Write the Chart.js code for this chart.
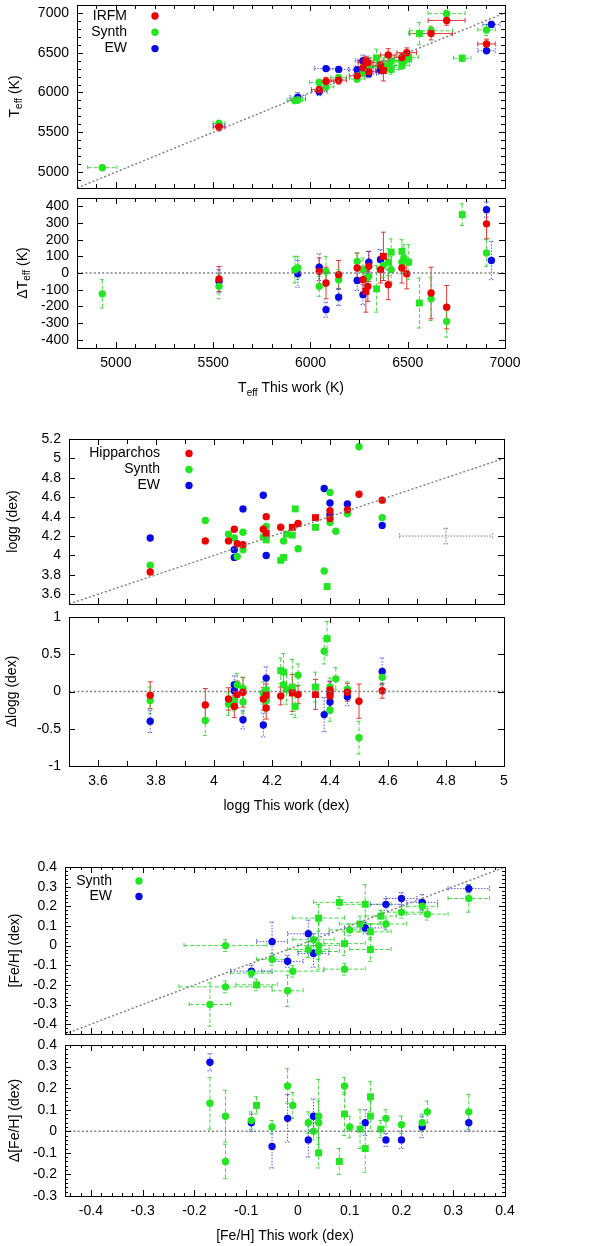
<!DOCTYPE html>
<html><head><meta charset="utf-8"><title>Teff, logg and [Fe/H] comparison</title>
<script src="https://cdn.jsdelivr.net/npm/chart.js@4.4.1/dist/chart.umd.min.js"></script>
<style>
html,body{margin:0;padding:0;background:#fff;}
#wrap{position:relative;width:600px;height:1246px;overflow:hidden;background:#fff;}
#wrap canvas{position:absolute;left:0;top:0;width:600px;height:1246px;}
</style></head>
<body><div id="wrap">
<canvas id="p1" width="600" height="1246"></canvas>
<canvas id="p2" width="600" height="1246"></canvas>
<canvas id="p3" width="600" height="1246"></canvas>
<canvas id="p4" width="600" height="1246"></canvas>
<canvas id="p5" width="600" height="1246"></canvas>
<canvas id="p6" width="600" height="1246"></canvas>
</div>
<script>
// ===================== DATA =====================
// axis ranges and tick labels
const teffRangeX = [4800, 7000];
const teffRangeY = [4800, 7100];
const dTeffRange = [-450, 450];
const teffTicks  = [5000, 5500, 6000, 6500, 7000];
const dTeffTicks = [-400, -300, -200, -100, 0, 100, 200, 300, 400];

const loggRangeX = [3.5, 5];
const loggRangeY = [3.5, 5.2];
const dLoggRange = [-1, 1];
const loggTicksX = [3.6, 3.8, 4, 4.2, 4.4, 4.6, 4.8, 5];
const loggTicksY = [3.6, 3.8, 4, 4.2, 4.4, 4.6, 4.8, 5, 5.2];
const dLoggTicks = [-1, -0.5, 0, 0.5, 1];

const fehRange   = [-0.45, 0.4];
const dFehRange  = [-0.3, 0.4];
const fehTicks   = [-0.4, -0.3, -0.2, -0.1, 0, 0.1, 0.2, 0.3, 0.4];
const dFehTicks  = [-0.3, -0.2, -0.1, 0, 0.1, 0.2, 0.3, 0.4];

// ---------- Teff : IRFM ----------
const irfmTeffThis     = [5530, 6045, 6080, 6145, 6240, 6270, 6295, 6300, 6360, 6400, 6470, 6495, 6620, 6700, 6905];
const irfmTeffLit      = [5566, 6035, 6140, 6155, 6210, 6310, 6375, 6260, 6340, 6470, 6440, 6500, 6740, 6905, 6610];
const irfmTeffDelta    = [-36, 10, -60, -10, 30, -40, -80, 40, 20, -70, 30, -5, -120, -205, 295];
const irfmTeffThisErr  = [30, 40, 40, 40, 40, 40, 50, 40, 40, 40, 40, 50, 110, 95, 45];
const irfmTeffLitErr   = [50, 40, 50, 50, 50, 50, 60, 60, 50, 80, 50, 60, 80, 60, 60];
const irfmTeffDeltaErr = [75, 80, 95, 85, 90, 80, 90, 90, 80, 90, 90, 90, 155, 130, 90];
// IRFM, square symbols
const irfmSqTeffThis     = [6285, 6375];
const irfmSqTeffLit      = [6395, 6275];
const irfmSqTeffDelta    = [-110, 100];
const irfmSqTeffThisErr  = [40, 40];
const irfmSqTeffLitErr   = [60, 130];
const irfmSqTeffDeltaErr = [125, 145];

// ---------- Teff : Synth ----------
const synthTeffThis     = [4930, 5530, 5920, 5935, 6045, 6080, 6145, 6240, 6270, 6285, 6300, 6375, 6400, 6415, 6470, 6480, 6620, 6700, 6905];
const synthTeffLit      = [5055, 5610, 5900, 5905, 6125, 6070, 6185, 6170, 6250, 6315, 6320, 6330, 6335, 6395, 6405, 6390, 6775, 6990, 6785];
const synthTeffDelta    = [-125, -80, 20, 30, -80, 10, -40, 70, 20, -30, -20, 45, 65, 20, 65, 90, -155, -290, 120];
const synthTeffThisErr  = [75, 30, 40, 40, 50, 40, 40, 40, 40, 40, 40, 40, 40, 40, 40, 40, 110, 95, 45];
const synthTeffLitErr   = [30, 40, 40, 40, 40, 50, 40, 40, 50, 50, 50, 60, 60, 60, 50, 50, 60, 40, 70];
const synthTeffDeltaErr = [85, 75, 80, 70, 60, 90, 60, 50, 70, 60, 60, 70, 80, 80, 70, 80, 130, 95, 80];
// Synth, square symbols
const synthSqTeffThis     = [6340, 6415, 6470, 6505, 6560, 6780];
const synthSqTeffLit      = [6435, 6290, 6340, 6440, 6740, 6430];
const synthSqTeffDelta    = [-95, 125, 130, 65, -180, 350];
const synthSqTeffThisErr  = [40, 40, 40, 50, 55, 45];
const synthSqTeffLitErr   = [110, 60, 50, 60, 140, 40];
const synthSqTeffDeltaErr = [140, 80, 70, 105, 150, 65];

// ---------- Teff : EW ----------
const ewTeffThis     = [5530, 5935, 6045, 6080, 6145, 6240, 6270, 6300, 6360, 6905, 6930];
const ewTeffLit      = [5580, 5940, 6010, 6300, 6290, 6285, 6400, 6235, 6280, 6525, 6855];
const ewTeffDelta    = [-50, -5, 35, -220, -145, -45, -130, 65, 80, 380, 75];
const ewTeffThisErr  = [30, 40, 40, 60, 50, 40, 40, 40, 40, 45, 45];
const ewTeffLitErr   = [40, 60, 50, 30, 30, 30, 70, 50, 50, 30, 40];
const ewTeffDeltaErr = [70, 80, 80, 45, 50, 60, 60, 65, 60, 45, 115];

// ---------- logg : Hipparchos ----------
const hipLoggThis     = [3.78, 3.97, 4.05, 4.07, 4.08, 4.10, 4.17, 4.18, 4.23, 4.29, 4.40, 4.40, 4.46, 4.50, 4.58];
const hipLoggLit      = [3.83, 4.15, 4.15, 4.27, 4.12, 4.11, 4.27, 4.40, 4.29, 4.33, 4.46, 4.38, 4.47, 4.63, 4.57];
const hipLoggDelta    = [-0.05, -0.18, -0.10, -0.20, -0.04, -0.01, -0.10, -0.22, -0.06, -0.04, -0.06, 0.02, -0.01, -0.13, 0.01];
const hipLoggDeltaErr = [0.18, 0.22, 0.15, 0.15, 0.18, 0.20, 0.15, 0.15, 0.12, 0.12, 0.15, 0.12, 0.12, 0.23, 0.10];
const hipSqLoggThis     = [4.18, 4.27, 4.35];
const hipSqLoggLit      = [4.23, 4.29, 4.39];
const hipSqLoggDelta    = [-0.05, -0.02, -0.04];
const hipSqLoggDeltaErr = [0.15, 0.25, 0.20];

// ---------- logg : Synth ----------
const synthLoggThis     = [3.78, 3.97, 4.05, 4.07, 4.08, 4.10, 4.10, 4.17, 4.18, 4.24, 4.29, 4.38, 4.40, 4.40, 4.42, 4.46, 4.50, 4.58];
const synthLoggLit      = [3.90, 4.36, 4.22, 4.18, 3.99, 4.24, 4.06, 4.19, 4.30, 4.15, 4.07, 3.84, 4.65, 4.34, 4.25, 4.43, 5.12, 4.39];
const synthLoggDelta    = [-0.12, -0.39, -0.17, -0.11, 0.09, -0.14, 0.04, -0.02, -0.12, 0.09, 0.22, 0.54, -0.25, 0.06, 0.17, 0.03, -0.62, 0.19];
const synthLoggDeltaErr = [0.18, 0.20, 0.15, 0.15, 0.15, 0.15, 0.15, 0.15, 0.15, 0.15, 0.15, 0.17, 0.15, 0.12, 0.15, 0.10, 0.22, 0.10];
const synthSqLoggThis     = [4.18, 4.23, 4.24, 4.25, 4.27, 4.28, 4.35, 4.39];
const synthSqLoggLit      = [4.16, 3.95, 3.98, 4.22, 4.21, 4.48, 4.29, 3.68];
const synthSqLoggDelta    = [0.02, 0.28, 0.26, 0.03, 0.06, -0.20, 0.06, 0.71];
const synthSqLoggDeltaErr = [0.15, 0.17, 0.25, 0.20, 0.37, 0.15, 0.20, 0.23];

// ---------- logg : EW ----------
const ewLoggThis     = [3.78, 4.07, 4.07, 4.10, 4.17, 4.18, 4.38, 4.40, 4.40, 4.46, 4.58];
const ewLoggLit      = [4.18, 4.06, 3.98, 4.48, 4.62, 4.00, 4.69, 4.54, 4.42, 4.53, 4.31];
const ewLoggDelta    = [-0.40, 0.01, 0.09, -0.38, -0.45, 0.18, -0.31, -0.14, -0.02, -0.07, 0.27];
const ewLoggDeltaErr = [0.15, 0.10, 0.12, 0.12, 0.16, 0.15, 0.23, 0.15, 0.15, 0.12, 0.18];

// typical logg error cross
const loggTypicalX    = [4.8];
const loggTypicalY    = [4.2];
const loggTypicalErrX = [0.16];
const loggTypicalErrY = [0.08];

// ---------- [Fe/H] : Synth ----------
const synthFehThis     = [-0.17, -0.14, -0.14, -0.09, -0.05, -0.02, -0.01, 0.02, 0.03, 0.04, 0.04, 0.09, 0.10, 0.17, 0.20, 0.24, 0.25, 0.33];
const synthFehLit      = [-0.30, 0.00, -0.21, -0.14, -0.07, -0.23, -0.13, -0.02, 0.03, -0.03, 0.00, -0.12, 0.08, 0.11, 0.17, 0.20, 0.16, 0.24];
const synthFehDelta    = [0.13, -0.14, 0.07, 0.05, 0.02, 0.21, 0.12, 0.04, 0.00, 0.07, 0.04, 0.21, 0.02, 0.06, 0.03, 0.04, 0.09, 0.09];
const synthFehThisErr  = [0.04, 0.08, 0.09, 0.04, 0.03, 0.03, 0.06, 0.04, 0.04, 0.04, 0.04, 0.04, 0.04, 0.04, 0.04, 0.03, 0.04, 0.04];
const synthFehLitErr   = [0.11, 0.03, 0.03, 0.02, 0.03, 0.08, 0.03, 0.04, 0.03, 0.04, 0.12, 0.03, 0.03, 0.03, 0.03, 0.03, 0.03, 0.07];
const synthFehDeltaErr = [0.12, 0.08, 0.12, 0.04, 0.03, 0.08, 0.06, 0.05, 0.04, 0.17, 0.10, 0.04, 0.05, 0.04, 0.04, 0.04, 0.05, 0.08];
const synthSqFehThis     = [-0.08, 0.04, 0.08, 0.09, 0.12, 0.13, 0.14, 0.14, 0.16];
const synthSqFehLit      = [-0.20, 0.14, 0.22, 0.01, 0.11, 0.21, -0.02, 0.07, 0.15];
const synthSqFehDelta    = [0.12, -0.10, -0.14, 0.08, 0.01, -0.08, 0.16, 0.07, 0.01];
const synthSqFehThisErr  = [0.04, 0.05, 0.05, 0.04, 0.04, 0.05, 0.04, 0.04, 0.03];
const synthSqFehLitErr   = [0.03, 0.07, 0.03, 0.06, 0.04, 0.10, 0.06, 0.04, 0.03];
const synthSqFehDeltaErr = [0.04, 0.07, 0.06, 0.10, 0.09, 0.11, 0.07, 0.07, 0.04];

// ---------- [Fe/H] : EW ----------
const ewFehThis     = [-0.17, -0.09, -0.05, -0.02, 0.02, 0.03, 0.13, 0.17, 0.20, 0.24, 0.33];
const ewFehLit      = [-0.49, -0.13, 0.02, -0.08, 0.06, -0.04, 0.09, 0.21, 0.24, 0.22, 0.29];
const ewFehDelta    = [0.32, 0.04, -0.07, 0.06, -0.04, 0.07, 0.04, -0.04, -0.04, 0.02, 0.04];
const ewFehThisErr  = [0.04, 0.04, 0.03, 0.03, 0.04, 0.03, 0.04, 0.03, 0.03, 0.03, 0.04];
const ewFehLitErr   = [0.04, 0.03, 0.10, 0.03, 0.07, 0.07, 0.03, 0.03, 0.03, 0.04, 0.02];
const ewFehDeltaErr = [0.04, 0.04, 0.10, 0.11, 0.08, 0.08, 0.06, 0.03, 0.04, 0.05, 0.04];

// ===================== STYLE / HELPERS =====================
const FONT = "'Liberation Sans', Arial, Helvetica, sans-serif";
const H = 1246, W = 600;
const COL = {red:'rgb(238,0,0)', green:'rgb(34,230,34)', blue:'rgb(10,10,230)', gray:'rgb(128,128,128)'};
const ERRCOL = {red:'rgba(225,20,20,0.85)', green:'rgba(40,210,40,0.85)', blue:'rgba(40,40,230,0.8)', gray:'rgba(110,110,110,0.9)'};
const DASH = {red:[], green:[4,2], blue:[1.5,1.5], gray:[1.5,1.5]};

function pts(xs, ys){ return xs.map((x,i)=>({x:x, y:ys[i]})); }
function series(name, c, shape, xs, ys, ex, ey){
  return {label:name, data:pts(xs, ys), showLine:false, pointStyle:shape,
    pointRadius: shape === 'rect' ? 4.9 : 3.7, pointHoverRadius: shape === 'rect' ? 4.9 : 3.7,
    pointBackgroundColor:COL[c], pointBorderColor:COL[c], pointBorderWidth:0,
    backgroundColor:COL[c], borderColor:COL[c],
    errX: ex || null, errY: ey || null, errColor: ERRCOL[c], errDash: DASH[c]};
}
function refLine(xs, ys){
  return {type:'line', label:'ref', data:pts(xs, ys), showLine:true, fill:false,
    borderColor:'rgb(125,125,125)', borderWidth:1.4, borderDash:[2,2.2], pointRadius:0, pointHoverRadius:0};
}

// error bars drawn through the chart scales
const errPlugin = {id:'errbars', beforeDatasetsDraw(chart){
  const ctx = chart.ctx, a = chart.chartArea, sx = chart.scales.x, sy = chart.scales.y;
  ctx.save();
  ctx.beginPath(); ctx.rect(a.left, a.top, a.right - a.left, a.bottom - a.top); ctx.clip();
  chart.data.datasets.forEach(d => {
    if (!d.errX && !d.errY) return;
    ctx.strokeStyle = d.errColor; ctx.lineWidth = 1; ctx.setLineDash(d.errDash || []);
    d.data.forEach((p, i) => {
      const px = sx.getPixelForValue(p.x), py = sy.getPixelForValue(p.y), cap = 2.5;
      ctx.beginPath();
      if (d.errX) {
        const l = sx.getPixelForValue(p.x - d.errX[i]), r = sx.getPixelForValue(p.x + d.errX[i]);
        ctx.moveTo(l, py); ctx.lineTo(r, py);
        ctx.moveTo(l, py - cap); ctx.lineTo(l, py + cap);
        ctx.moveTo(r, py - cap); ctx.lineTo(r, py + cap);
      }
      if (d.errY) {
        const t = sy.getPixelForValue(p.y + d.errY[i]), b = sy.getPixelForValue(p.y - d.errY[i]);
        ctx.moveTo(px, t); ctx.lineTo(px, b);
        ctx.moveTo(px - cap, t); ctx.lineTo(px + cap, t);
        ctx.moveTo(px - cap, b); ctx.lineTo(px + cap, b);
      }
      ctx.stroke();
    });
  });
  ctx.restore();
}};

// frame with inward ticks on all four sides
function tickVals(min, max, step){
  const out = [], k0 = Math.ceil(min / step - 1e-9), k1 = Math.floor(max / step + 1e-9);
  for (let k = k0; k <= k1; k++) out.push(Math.round(k * step * 1e6) / 1e6);
  return out;
}
const framePlugin = {id:'frame', afterDatasetsDraw(chart, args, o){
  const ctx = chart.ctx, a = chart.chartArea, sx = chart.scales.x, sy = chart.scales.y;
  ctx.save(); ctx.setLineDash([]); ctx.strokeStyle = '#000'; ctx.lineWidth = 1;
  const xt = sx.ticks.map(t => t.value), yt = sy.ticks.map(t => t.value);
  ctx.beginPath();
  const xs = o.xMinor ? tickVals(sx.min, sx.max, o.xMinor) : [];
  const ys = o.yMinor ? tickVals(sy.min, sy.max, o.yMinor) : [];
  xs.filter(v => !xt.some(m => Math.abs(m - v) < 1e-6)).forEach(v => {
    const p = Math.round(sx.getPixelForValue(v)) + 0.5;
    ctx.moveTo(p, a.bottom); ctx.lineTo(p, a.bottom - o.minorLen);
    ctx.moveTo(p, a.top); ctx.lineTo(p, a.top + o.minorLen);
  });
  xt.forEach(v => {
    const p = Math.round(sx.getPixelForValue(v)) + 0.5;
    ctx.moveTo(p, a.bottom); ctx.lineTo(p, a.bottom - o.majorLen);
    ctx.moveTo(p, a.top); ctx.lineTo(p, a.top + o.majorLen);
  });
  ys.filter(v => !yt.some(m => Math.abs(m - v) < 1e-6)).forEach(v => {
    const p = Math.round(sy.getPixelForValue(v)) + 0.5;
    ctx.moveTo(a.left, p); ctx.lineTo(a.left + o.minorLen, p);
    ctx.moveTo(a.right, p); ctx.lineTo(a.right - o.minorLen, p);
  });
  yt.forEach(v => {
    const p = Math.round(sy.getPixelForValue(v)) + 0.5;
    ctx.moveTo(a.left, p); ctx.lineTo(a.left + o.majorLen, p);
    ctx.moveTo(a.right, p); ctx.lineTo(a.right - o.majorLen, p);
  });
  ctx.stroke();
  ctx.strokeRect(Math.round(a.left) + 0.5, Math.round(a.top) + 0.5, Math.round(a.right - a.left), Math.round(a.bottom - a.top));
  ctx.restore();
}};

// axis titles (with subscripts) and gnuplot-like key
function drawSegs(ctx, segs, cx, cy){
  let w = 0;
  segs.forEach(s => { ctx.font = (s[1] ? '10px ' : '14px ') + FONT; w += ctx.measureText(s[0]).width; });
  let x = cx - w / 2;
  segs.forEach(s => {
    ctx.font = (s[1] ? '10px ' : '14px ') + FONT;
    ctx.fillText(s[0], x, cy + (s[1] ? 4 : 0));
    x += ctx.measureText(s[0]).width;
  });
}
const textPlugin = {id:'texts', afterDraw(chart, args, o){
  const ctx = chart.ctx, a = chart.chartArea;
  ctx.save(); ctx.fillStyle = '#000'; ctx.textAlign = 'left';
  if (o.yTitle) {
    ctx.textBaseline = 'middle';
    ctx.translate(o.yTitleX, (a.top + a.bottom) / 2); ctx.rotate(-Math.PI / 2);
    drawSegs(ctx, o.yTitle, 0, 0);
    ctx.setTransform(chart.currentDevicePixelRatio, 0, 0, chart.currentDevicePixelRatio, 0, 0);
  }
  if (o.xTitle) {
    ctx.textBaseline = 'alphabetic';
    drawSegs(ctx, o.xTitle, (a.left + a.right) / 2, a.bottom + o.xTitleDy);
  }
  if (o.key) {
    const k = o.key;
    k.items.forEach((it, i) => {
      const y = k.y0 + i * k.dy;
      ctx.font = '14px ' + FONT; ctx.textAlign = 'right'; ctx.textBaseline = 'middle'; ctx.fillStyle = '#000';
      ctx.fillText(it[0], k.tx, y);
      ctx.fillStyle = COL[it[1]];
      ctx.beginPath(); ctx.arc(k.mx, y, 3.7, 0, Math.PI * 2); ctx.fill();
    });
  }
  ctx.restore();
}};

function makePanel(id, p){
  function axis(isX){
    const r = isX ? p.xr : p.yr, t = isX ? p.xt : p.yt;
    return {type:'linear', position: isX ? 'bottom' : 'left', min:r[0], max:r[1],
      grid:{display:false, drawTicks:false}, border:{display:false},
      ticks:{display: isX ? p.showX : true, padding: isX ? 7 : 8, color:'#000',
        font:{family:FONT, size:14}, autoSkip:false, maxRotation:0, minRotation:0,
        callback: v => String(v)},
      afterBuildTicks: s => { s.ticks = t.map(v => ({value:v})); },
      afterFit: s => {
        if (isX) { s.height = H - p.B; s.paddingLeft = 0; s.paddingRight = 0; }
        else { s.width = p.L; s.paddingTop = 0; s.paddingBottom = 0; }
      }};
  }
  return new Chart(document.getElementById(id), {
    type:'scatter',
    data:{datasets:p.datasets},
    plugins:[errPlugin, framePlugin, textPlugin],
    options:{responsive:false, animation:false, events:[],
      layout:{padding:{top:p.T, right:W - p.R, left:0, bottom:0}},
      scales:{x:axis(true), y:axis(false)},
      plugins:{legend:{display:false}, tooltip:{enabled:false},
        frame:{xMinor:p.xMinor, yMinor:p.yMinor, majorLen:p.majorLen || 6, minorLen:p.minorLen || 3},
        texts:{yTitle:p.yTitle, yTitleX:p.yTitleX, xTitle:p.xTitle, xTitleDy:44, key:p.key}}}
  });
}

// ===================== PANELS =====================
makePanel('p1', {L:77, R:505, T:2, B:188, xr:teffRangeX, yr:teffRangeY, xt:teffTicks, yt:teffTicks, showX:false,
  xMinor:100, yMinor:100, majorLen:6, minorLen:4,
  yTitle:[['T'],['eff',1],[' (K)']], yTitleX:15,
  key:{tx:127, mx:155, y0:16, dy:16.3, items:[['IRFM','red'],['Synth','green'],['EW','blue']]},
  datasets:[
    refLine(teffRangeX, teffRangeX),
    series('IRFM', 'red', 'circle', irfmTeffThis, irfmTeffLit, irfmTeffThisErr, irfmTeffLitErr),
    series('IRFM', 'red', 'rect', irfmSqTeffThis, irfmSqTeffLit, irfmSqTeffThisErr, irfmSqTeffLitErr),
    series('Synth', 'green', 'circle', synthTeffThis, synthTeffLit, synthTeffThisErr, synthTeffLitErr),
    series('Synth', 'green', 'rect', synthSqTeffThis, synthSqTeffLit, synthSqTeffThisErr, synthSqTeffLitErr),
    series('EW', 'blue', 'circle', ewTeffThis, ewTeffLit, ewTeffThisErr, ewTeffLitErr)
  ]});

makePanel('p2', {L:77, R:505, T:198, B:348, xr:teffRangeX, yr:dTeffRange, xt:teffTicks, yt:dTeffTicks, showX:true,
  xMinor:100, yMinor:0, majorLen:6, minorLen:4,
  yTitle:[['\u0394T'],['eff',1],[' (K)']], yTitleX:23,
  xTitle:[['T'],['eff',1],[' This work (K)']],
  datasets:[
    refLine(teffRangeX, [0, 0]),
    series('IRFM', 'red', 'circle', irfmTeffThis, irfmTeffDelta, null, irfmTeffDeltaErr),
    series('IRFM', 'red', 'rect', irfmSqTeffThis, irfmSqTeffDelta, null, irfmSqTeffDeltaErr),
    series('Synth', 'green', 'circle', synthTeffThis, synthTeffDelta, null, synthTeffDeltaErr),
    series('Synth', 'green', 'rect', synthSqTeffThis, synthSqTeffDelta, null, synthSqTeffDeltaErr),
    series('EW', 'blue', 'circle', ewTeffThis, ewTeffDelta, null, ewTeffDeltaErr)
  ]});

makePanel('p3', {L:69, R:504, T:439, B:604, xr:loggRangeX, yr:loggRangeY, xt:loggTicksX, yt:loggTicksY, showX:false,
  xMinor:0.1, yMinor:0, majorLen:6, minorLen:5,
  yTitle:[['logg (dex)']], yTitleX:13,
  key:{tx:160, mx:189, y0:453.5, dy:16, items:[['Hipparchos','red'],['Synth','green'],['EW','blue']]},
  datasets:[
    refLine(loggRangeX, loggRangeX),
    series('Hipparchos', 'red', 'circle', hipLoggThis, hipLoggLit),
    series('Hipparchos', 'red', 'rect', hipSqLoggThis, hipSqLoggLit),
    series('Synth', 'green', 'circle', synthLoggThis, synthLoggLit),
    series('Synth', 'green', 'rect', synthSqLoggThis, synthSqLoggLit),
    series('EW', 'blue', 'circle', ewLoggThis, ewLoggLit),
    Object.assign(series('typical error', 'gray', 'circle', loggTypicalX, loggTypicalY, loggTypicalErrX, loggTypicalErrY), {pointRadius:0})
  ]});

makePanel('p4', {L:69, R:504, T:617, B:766, xr:loggRangeX, yr:dLoggRange, xt:loggTicksX, yt:dLoggTicks, showX:true,
  xMinor:0.1, yMinor:0, majorLen:6, minorLen:5,
  yTitle:[['\u0394logg (dex)']], yTitleX:12,
  xTitle:[['logg This work (dex)']],
  datasets:[
    refLine(loggRangeX, [0, 0]),
    series('Hipparchos', 'red', 'circle', hipLoggThis, hipLoggDelta, null, hipLoggDeltaErr),
    series('Hipparchos', 'red', 'rect', hipSqLoggThis, hipSqLoggDelta, null, hipSqLoggDeltaErr),
    series('Synth', 'green', 'circle', synthLoggThis, synthLoggDelta, null, synthLoggDeltaErr),
    series('Synth', 'green', 'rect', synthSqLoggThis, synthSqLoggDelta, null, synthSqLoggDeltaErr),
    series('EW', 'blue', 'circle', ewLoggThis, ewLoggDelta, null, ewLoggDeltaErr)
  ]});

makePanel('p5', {L:65, R:505, T:867, B:1034, xr:fehRange, yr:fehRange, xt:fehTicks, yt:fehTicks, showX:false,
  xMinor:0.02, yMinor:0.02, majorLen:6, minorLen:3,
  yTitle:[['[Fe/H] (dex)']], yTitleX:15,
  key:{tx:112, mx:139, y0:881, dy:15.5, items:[['Synth','green'],['EW','blue']]},
  datasets:[
    refLine(fehRange, fehRange),
    series('Synth', 'green', 'circle', synthFehThis, synthFehLit, synthFehThisErr, synthFehLitErr),
    series('Synth', 'green', 'rect', synthSqFehThis, synthSqFehLit, synthSqFehThisErr, synthSqFehLitErr),
    series('EW', 'blue', 'circle', ewFehThis, ewFehLit, ewFehThisErr, ewFehLitErr)
  ]});

makePanel('p6', {L:65, R:505, T:1045, B:1196, xr:fehRange, yr:dFehRange, xt:fehTicks, yt:dFehTicks, showX:true,
  xMinor:0.02, yMinor:0.02, majorLen:6, minorLen:3,
  yTitle:[['\u0394[Fe/H] (dex)']], yTitleX:15,
  xTitle:[['[Fe/H] This work (dex)']],
  datasets:[
    refLine(fehRange, [0, 0]),
    series('Synth', 'green', 'circle', synthFehThis, synthFehDelta, null, synthFehDeltaErr),
    series('Synth', 'green', 'rect', synthSqFehThis, synthSqFehDelta, null, synthSqFehDeltaErr),
    series('EW', 'blue', 'circle', ewFehThis, ewFehDelta, null, ewFehDeltaErr)
  ]});
</script>
</body></html>
